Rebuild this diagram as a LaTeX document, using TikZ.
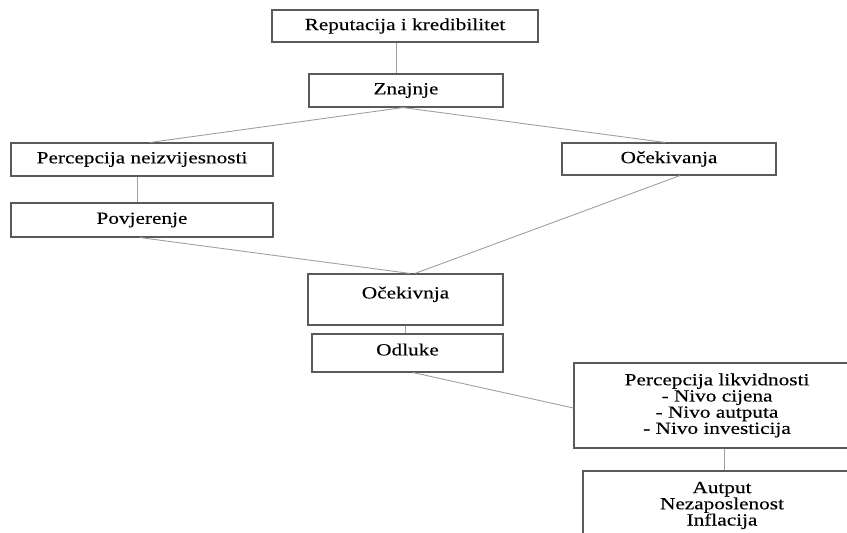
\documentclass[tikz,border=0pt]{standalone}
\usepackage{fontspec}
\setmainfont{Liberation Serif}[FakeStretch=1.25,FakeBold=0.3]
\definecolor{boxc}{HTML}{5A5A5A}
\definecolor{linec}{HTML}{A0A0A0}
\begin{document}
\begin{tikzpicture}[x=1pt,y=-1pt,
  box/.style={draw=boxc, line width=1.1pt, fill=white, inner sep=0pt, align=center,
    font=\fontsize{17}{16.2}\selectfont},
  con/.style={draw=linec, line width=0.9pt}]
\useasboundingbox (0,0) rectangle (847,533);
\clip (0,0) rectangle (847,533);
\node[box, minimum width=266, minimum height=32] (rep) at (405,26) {Reputacija i kredibilitet};
\node[box, minimum width=194, minimum height=33] (zn) at (406,90.5) {Znajnje};
\node[box, minimum width=262, minimum height=33] (perc) at (142,159.5) {Percepcija neizvijesnosti};
\node[box, minimum width=214, minimum height=32] (oc) at (669,159) {Očekivanja};
\node[box, minimum width=262, minimum height=34] (pov) at (142,220) {Povjerenje};
\node[box, minimum width=195, minimum height=51, text depth=14pt] (ocv) at (405.5,299.5) {Očekivnja};
\node[box, minimum width=191, minimum height=38, text depth=7pt] (od) at (407.5,353) {Odluke};
\node[box, minimum width=286, minimum height=85] (pl) at (717,405.5) {Percepcija likvidnosti\\- Nivo cijena\\- Nivo autputa\\- Nivo investicija};
\node[box, minimum width=278, minimum height=69] (out) at (722,505.5) {Autput\\Nezaposlenost\\Inflacija};
\draw[con] (rep.south -| 396,0) -- (zn.north -| 396,0);
\draw[con] (zn.south -| 403,0) -- (perc.north -| 150,0);
\draw[con] (zn.south -| 403,0) -- (oc.north -| 665,0);
\draw[con] (perc.south -| 137,0) -- (pov.north -| 137,0);
\draw[con] (pov.south -| 140,0) -- (ocv.north -| 410,0);
\draw[con] (oc.south -| 680,0) -- (ocv.north -| 415,0);
\draw[con] (ocv.south -| 405,0) -- (od.north -| 405,0);
\draw[con] (od.south -| 413,0) -- (pl.west |- 0,408);
\draw[con] (pl.south -| 724,0) -- (out.north -| 724,0);
\end{tikzpicture}
\end{document}
